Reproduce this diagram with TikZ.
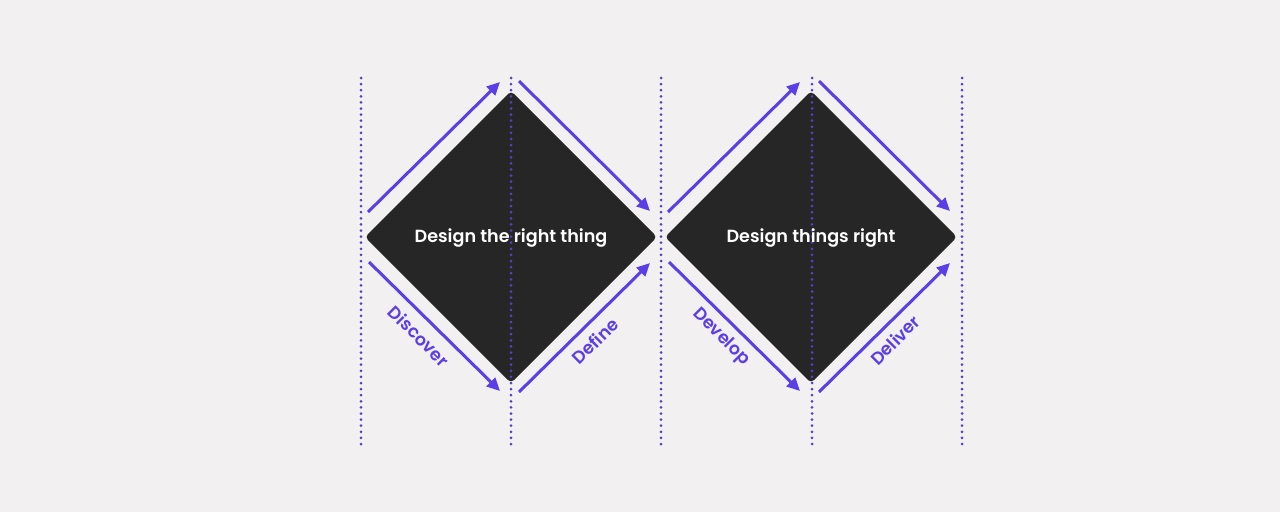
\documentclass[tikz,border=0pt]{standalone}
\usepackage{fontspec}
\setmainfont{Poppins}
\newfontfamily\popsemi{Poppins}[UprightFont=* SemiBold]
\usetikzlibrary{arrows.meta}
\definecolor{bg}{HTML}{F2F0F1}
\definecolor{dia}{HTML}{262626}
\definecolor{arr}{HTML}{5A3EE6}
\definecolor{dotc}{HTML}{5541C4}
\begin{document}
\begin{tikzpicture}[x=1pt,y=-1pt,
  diashape/.style={fill=dia, rounded corners=4pt},
  flow/.style={draw=arr, line width=3pt, -{Triangle[length=13pt,width=12pt]}},
  guide/.style={draw=dotc, line width=3pt, line cap=round, dash pattern=on 0pt off 6.1pt},
  title/.style={text=white, font=\popsemi\fontsize{17.6}{20}\selectfont, inner sep=0pt},
  phase/.style={text=arr, font=\popsemi\fontsize{17.5}{21}\selectfont, inner sep=0pt}]
\fill[bg] (0,0) rectangle (1280,512);
\useasboundingbox (0,0) rectangle (1280,512);
% diamonds
\foreach \cx in {511, 811}{
  \fill[diashape] (\cx-146,237) -- (\cx,91) -- (\cx+146,237) -- (\cx,383) -- cycle;
}
% guides
\foreach \x/\n in {361/1, 511/2, 661/3, 812/4, 962/5}{
  \coordinate (gt\n) at (\x,78);
  \coordinate (gb\n) at (\x,445);
  \draw[guide] (gt\n) -- (gb\n);
}
% text
\node[title] (ta) at (511,238) {Design the right thing};
\node[title] (tb) at (811,238) {Design things right};
% arrows
\foreach \cx/\n in {511/a, 811/b}{
  \coordinate (ul1\n) at (\cx-143,212);
  \coordinate (ul2\n) at (\cx-11,82);
  \coordinate (ur1\n) at (\cx+8,81);
  \coordinate (ur2\n) at (\cx+139,211);
  \coordinate (ll1\n) at (\cx-142,262);
  \coordinate (ll2\n) at (\cx-11,391);
  \coordinate (lr1\n) at (\cx+8,392);
  \coordinate (lr2\n) at (\cx+139,263);
  \draw[flow] (ul1\n) -- (ul2\n);
  \draw[flow] (ur1\n) -- (ur2\n);
  \draw[flow] (ll1\n) -- (ll2\n);
  \draw[flow] (lr1\n) -- (lr2\n);
}
\node[phase, rotate=-45] (disc) at (419,336) {Discover};
\node[phase, rotate=45] (defi) at (595,341) {Define};
\node[phase, rotate=-45] (deve) at (721,337) {Develop};
\node[phase, rotate=45] (deli) at (895,340) {Deliver};
\end{tikzpicture}
\end{document}
